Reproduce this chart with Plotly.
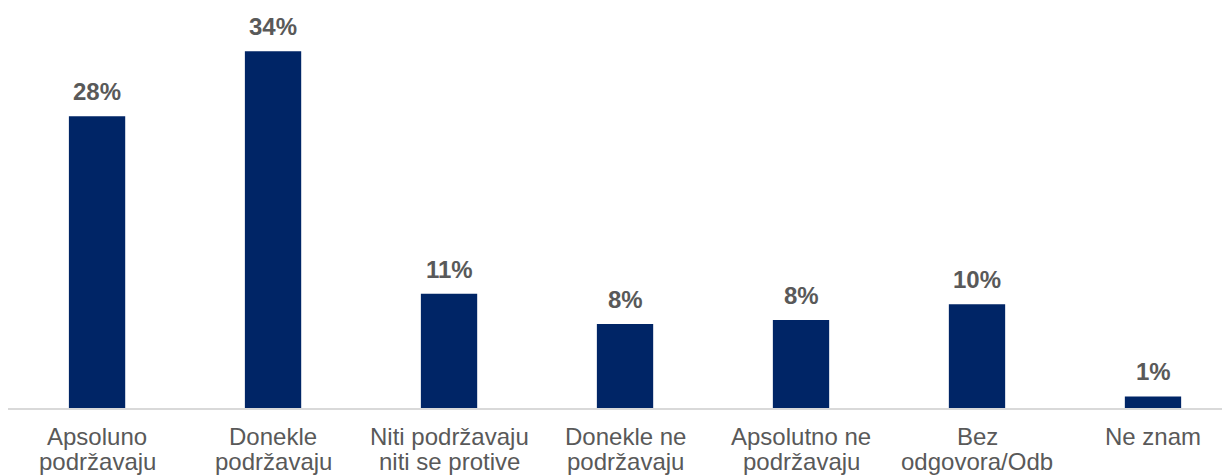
import plotly.graph_objects as go

categories = [
    "Apsoluno<br>podržavaju",
    "Donekle<br>podržavaju",
    "Niti podržavaju<br>niti se protive",
    "Donekle ne<br>podržavaju",
    "Apsolutno ne<br>podržavaju",
    "Bez<br>odgovora/Odb",
    "Ne znam",
]
values = [27.8, 34.0, 10.9, 8.0, 8.4, 9.9, 1.1]
labels = ["28%", "34%", "11%", "8%", "8%", "10%", "1%"]

BAR_COLOR = "#002566"
TEXT_COLOR = "#595959"
FONT = "Liberation Sans, Arial, sans-serif"

fig = go.Figure(go.Bar(
    x=categories, y=values,
    marker=dict(color=BAR_COLOR, line=dict(width=0)),
    hoverinfo="skip",
))

# value labels above bars
for c, v, t in zip(categories, values, labels):
    fig.add_annotation(
        x=c, y=v, text="<b>%s</b>" % t, showarrow=False,
        yanchor="bottom", yshift=9,
        font=dict(family=FONT, size=24, color=TEXT_COLOR),
    )

# category labels, one annotation per line to keep tight line spacing
for c in categories:
    for i, line in enumerate(c.split("<br>")):
        fig.add_annotation(
            x=c, y=0, yref="paper", text=line, showarrow=False,
            yanchor="top", yshift=-13 - 25 * i,
            font=dict(family=FONT, size=24, color=TEXT_COLOR),
        )

fig.update_layout(
    width=1230, height=475,
    plot_bgcolor="white", paper_bgcolor="white",
    margin=dict(l=0, r=0, t=0, b=75),
    bargap=0.68,
    showlegend=False,
    font=dict(family=FONT, size=24, color=TEXT_COLOR),
)
fig.update_xaxes(
    range=[-0.506, 6.483],
    showline=True, linecolor="#d9d9d9", linewidth=2,
    showticklabels=False, ticks="",
    showgrid=False, fixedrange=True,
)
fig.update_yaxes(
    range=[0, 38.13], visible=False, showgrid=False, fixedrange=True,
)

fig.write_html("out.html", config={"displayModeBar": False})
